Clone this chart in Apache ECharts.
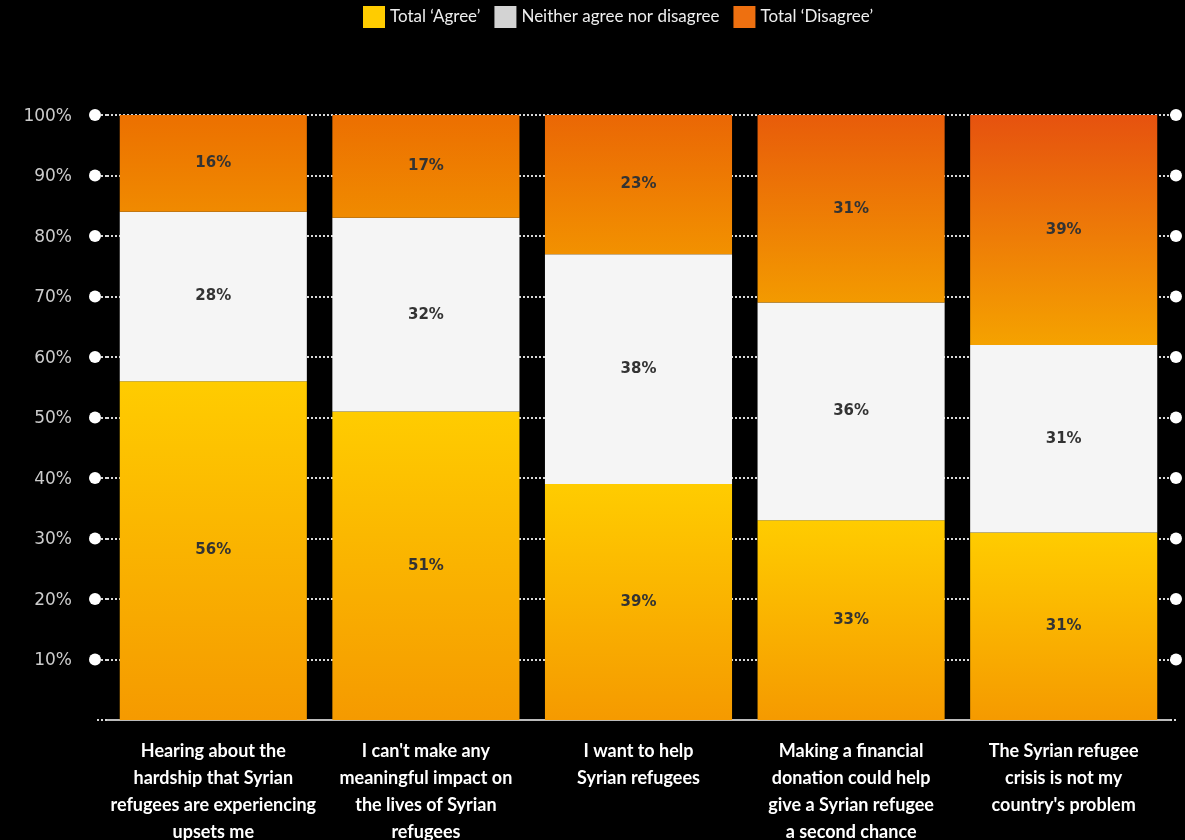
<!DOCTYPE html>
<html>
<head>
<meta charset="utf-8">
<script src="https://cdn.jsdelivr.net/npm/echarts@6/dist/echarts.min.js"></script>
<style>html,body{margin:0;padding:0;background:#000;}#c{width:1185px;height:840px;}</style>
</head>
<body>
<div id="c"></div>
<script>
const categories = [
  "Hearing about the\nhardship that Syrian\nrefugees are experiencing\nupsets me",
  "I can't make any\nmeaningful impact on\nthe lives of Syrian\nrefugees",
  "I want to help\nSyrian refugees",
  "Making a financial\ndonation could help\ngive a Syrian refugee\na second chance",
  "The Syrian refugee\ncrisis is not my\ncountry's problem"
];
const seriesNames = ["Total \u2018Agree\u2019", "Neither agree nor disagree", "Total \u2018Disagree\u2019"];
const agree = [56, 51, 39, 33, 31];
const neither = [28, 32, 38, 36, 31];
const disagree = [16, 17, 23, 31, 39];

function hex(c){return [parseInt(c.slice(1,3),16),parseInt(c.slice(3,5),16),parseInt(c.slice(5,7),16)];}
function mix(a,b,t){const x=hex(a),y=hex(b);return 'rgb('+x.map((v,i)=>Math.round(v+(y[i]-v)*t)).join(',')+')';}
function grad(top,bottom){return {type:'linear',x:0,y:0,x2:0,y2:1,colorStops:[{offset:0,color:top},{offset:1,color:bottom}]};}

const dMin = Math.min(...disagree), dMax = Math.max(...disagree);
const disagreeData = disagree.map(v => {
  const t = (v - dMin) / (dMax - dMin);
  return {value: v, itemStyle: {color: grad(mix('#EC7000', '#E6520F', t), mix('#F08A00', '#F5A200', t))}};
});

const labelStyle = {show: true, position: 'inside', formatter: '{c}%', color: '#333', fontFamily: 'DejaVu Sans', fontWeight: 'bold', fontSize: 15};
const dotRich = {width: 12, height: 12, borderRadius: 6, backgroundColor: '#fff'};
const dotted = {color: '#d8d8d8', type: [2, 2], width: 2};

const chart = echarts.init(document.getElementById('c'));
chart.setOption({
  backgroundColor: '#000',
  animation: false,
  legend: {
    top: 1, left: 358, itemWidth: 22, itemHeight: 22, itemGap: 14,
    icon: 'rect',
    textStyle: {color: '#eee', fontFamily: 'Lato', fontSize: 17},
    data: [
      {name: seriesNames[0], itemStyle: {color: '#FFCC00'}},
      {name: seriesNames[1], itemStyle: {color: '#D3D3D3'}},
      {name: seriesNames[2], itemStyle: {color: '#EE7010'}}
    ]
  },
  grid: {left: 107, right: 15, top: 115, bottom: 120, outerBoundsMode: 'none'},
  xAxis: {
    type: 'category', data: categories,
    axisLine: {lineStyle: {color: '#bbb', width: 2}},
    axisTick: {show: false},
    axisLabel: {interval: 0, color: '#fff', fontFamily: 'Lato', fontWeight: 'bold', fontSize: 18, lineHeight: 27, margin: 18}
  },
  yAxis: [{
    type: 'value', min: 0, max: 100, interval: 10,
    axisLine: {show: false},
    axisTick: {show: true, length: 12, lineStyle: dotted},
    splitLine: {show: true, lineStyle: dotted},
    axisLabel: {
      margin: 6,
      formatter: v => v === 0 ? '' : '{v|' + v + '%}{dot|}',
      rich: {v: {color: '#ccc', fontFamily: 'DejaVu Sans', fontSize: 17, padding: [3, 17, 0, 0]}, dot: dotRich}
    }
  }, {
    type: 'value', min: 0, max: 100, interval: 10, position: 'right',
    axisLine: {show: false},
    axisTick: {show: true, length: 6, lineStyle: dotted},
    splitLine: {show: false},
    axisLabel: {margin: 0, formatter: v => v === 0 ? '' : '{dot|}', rich: {dot: dotRich}}
  }],
  series: [
    {name: seriesNames[0], type: 'bar', stack: 'total', barWidth: '88%', data: agree,
     itemStyle: {color: grad('#FFCC00', '#F59A00')}, label: labelStyle},
    {name: seriesNames[1], type: 'bar', stack: 'total', barWidth: '88%', data: neither,
     itemStyle: {color: '#F5F5F5'}, label: labelStyle},
    {name: seriesNames[2], type: 'bar', stack: 'total', barWidth: '88%', data: disagreeData,
     itemStyle: {color: '#EE7010'}, label: labelStyle}
  ]
});
</script>
</body>
</html>
